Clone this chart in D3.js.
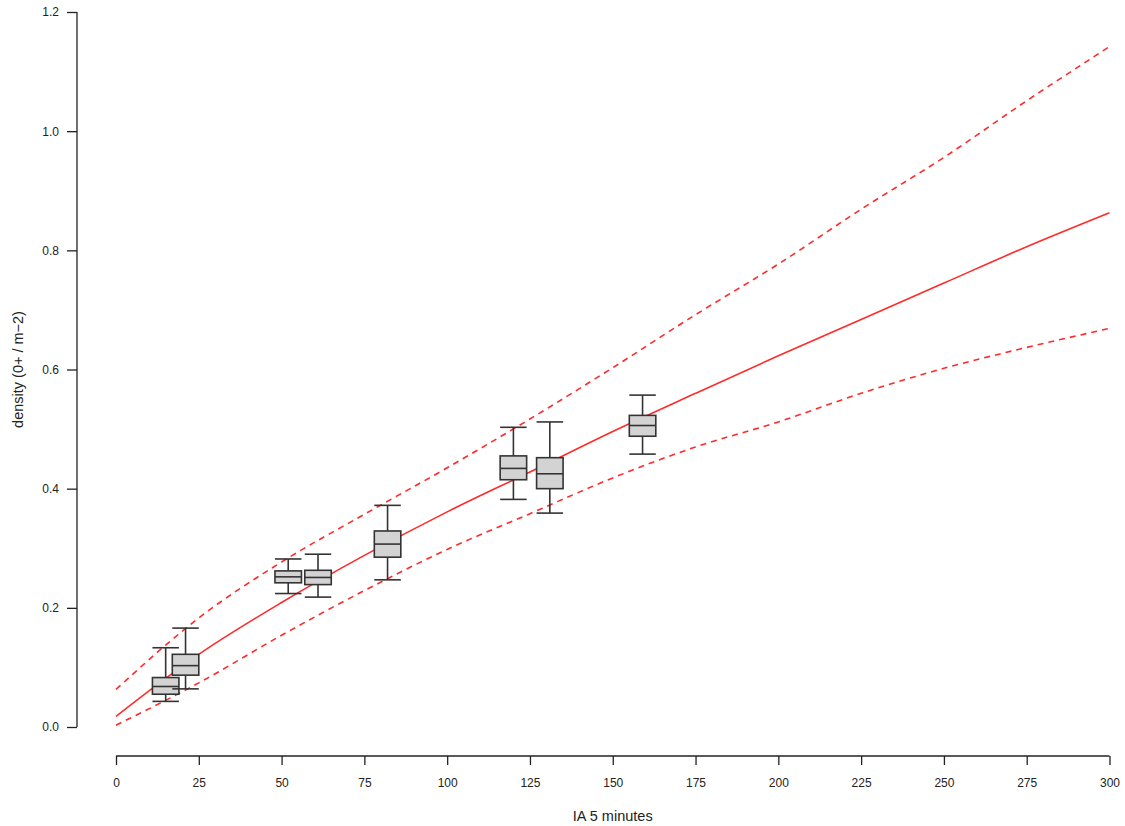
<!DOCTYPE html>
<html>
<head>
<meta charset="utf-8">
<script src="https://cdn.jsdelivr.net/npm/d3@7"></script>
<style>
  body { margin: 0; background: #fff; }
  text { font-family: "Liberation Sans", Arial, sans-serif; fill: #222; }
</style>
</head>
<body>
<div class="chart"></div>
<script>
var lineX = [0, 25, 50, 75, 100, 125, 150, 175, 200, 225, 250, 275, 300];
var meanY = [0.018, 0.122, 0.209, 0.288, 0.361, 0.428, 0.496, 0.560, 0.623, 0.684, 0.745, 0.806, 0.863];
var upperY = [0.063, 0.183, 0.277, 0.357, 0.435, 0.517, 0.603, 0.692, 0.777, 0.869, 0.956, 1.051, 1.142];
var lowerY = [0.003, 0.074, 0.154, 0.229, 0.298, 0.358, 0.418, 0.470, 0.512, 0.560, 0.602, 0.637, 0.669];

// observed boxplots
var boxX = [15, 21, 52, 61, 82, 120, 131, 159];
var whiskerHi = [0.133, 0.166, 0.282, 0.290, 0.372, 0.503, 0.512, 0.557];
var q3 = [0.083, 0.122, 0.262, 0.263, 0.329, 0.455, 0.452, 0.523];
var median = [0.068, 0.103, 0.252, 0.251, 0.307, 0.434, 0.425, 0.506];
var q1 = [0.055, 0.087, 0.242, 0.239, 0.285, 0.415, 0.400, 0.488];
var whiskerLo = [0.043, 0.064, 0.224, 0.218, 0.247, 0.382, 0.359, 0.458];

var xTicks = [0, 25, 50, 75, 100, 125, 150, 175, 200, 225, 250, 275, 300];
var yTicks = [0, 0.2, 0.4, 0.6, 0.8, 1.0, 1.2];

var width = 1125;
var height = 826;
var boxWidth = 8; // in minutes

var x = d3.scaleLinear().domain([0, 300]).range([116, 1109.5]);
var y = d3.scaleLinear().domain([0, 1.2]).range([727, 12]);

var svg = d3.select(".chart")
            .append("svg")
              .attr("width", width)
              .attr("height", height);

svg.append("rect")
   .attr("width", width)
   .attr("height", height)
   .attr("fill", "#fff");

// axes
var yAxis = svg.append("g")
   .attr("transform", "translate(77,0)")
   .call(d3.axisLeft(y).tickValues(yTicks).tickSize(10).tickPadding(8)
           .tickFormat(d3.format(".1f")));

var xAxis = svg.append("g")
   .attr("transform", "translate(0,756)")
   .call(d3.axisBottom(x).tickValues(xTicks).tickSize(9).tickPadding(13));

[yAxis, xAxis].forEach(function(a) {
  a.select(".domain").attr("stroke", "#222").attr("stroke-width", 1.3);
  a.selectAll(".tick line").attr("stroke", "#222").attr("stroke-width", 1.3);
  a.selectAll(".tick text").attr("font-size", "12px")
   .attr("font-family", "Liberation Sans, Arial, sans-serif").attr("fill", "#222");
});
// R-style axis: domain only from first to last tick
yAxis.select(".domain").attr("d", "M0," + y(0) + "V" + y(1.2));
xAxis.select(".domain").attr("d", "M" + x(0) + ",0H" + x(300));

// axis titles
svg.append("text")
   .attr("x", x(150))
   .attr("y", 821)
   .attr("text-anchor", "middle")
   .attr("font-size", "14.5px")
   .text("IA 5 minutes");

svg.append("text")
   .attr("transform", "translate(23," + y(0.6) + ") rotate(-90)")
   .attr("text-anchor", "middle")
   .attr("font-size", "14.5px")
   .text("density (0+ / m\u22122)");

// model lines
var line = d3.line()
   .x(function(d) { return x(d[0]); })
   .y(function(d) { return y(d[1]); })
   .curve(d3.curveMonotoneX);

var series = [
  { values: meanY, dash: null },
  { values: upperY, dash: "6,5" },
  { values: lowerY, dash: "6,5" }
];

svg.selectAll("path.model")
   .data(series)
   .enter()
   .append("path")
    .attr("class", "model")
    .attr("d", function(s) {
      return line(lineX.map(function(v, i) { return [v, s.values[i]]; }));
    })
    .attr("fill", "none")
    .attr("stroke", "#ff2a2a")
    .attr("stroke-width", 1.6)
    .attr("stroke-dasharray", function(s) { return s.dash; });

// boxplots
var half = (x(boxWidth) - x(0)) / 2;
var boxes = svg.selectAll("g.box")
   .data(boxX.map(function(v, i) {
     return { x: v, hi: whiskerHi[i], q3: q3[i], med: median[i], q1: q1[i], lo: whiskerLo[i] };
   }))
   .enter()
   .append("g")
    .attr("class", "box")
    .attr("stroke", "#333")
    .attr("stroke-width", 1.6);

boxes.append("line")
   .attr("x1", function(d) { return x(d.x); })
   .attr("x2", function(d) { return x(d.x); })
   .attr("y1", function(d) { return y(d.hi); })
   .attr("y2", function(d) { return y(d.lo); });

boxes.append("rect")
   .attr("x", function(d) { return x(d.x) - half; })
   .attr("y", function(d) { return y(d.q3); })
   .attr("width", half * 2)
   .attr("height", function(d) { return y(d.q1) - y(d.q3); })
   .attr("fill", "#d3d3d3");

["hi", "med", "lo"].forEach(function(k) {
  boxes.append("line")
     .attr("x1", function(d) { return x(d.x) - half; })
     .attr("x2", function(d) { return x(d.x) + half; })
     .attr("y1", function(d) { return y(d[k]); })
     .attr("y2", function(d) { return y(d[k]); });
});
</script>
</body>
</html>
